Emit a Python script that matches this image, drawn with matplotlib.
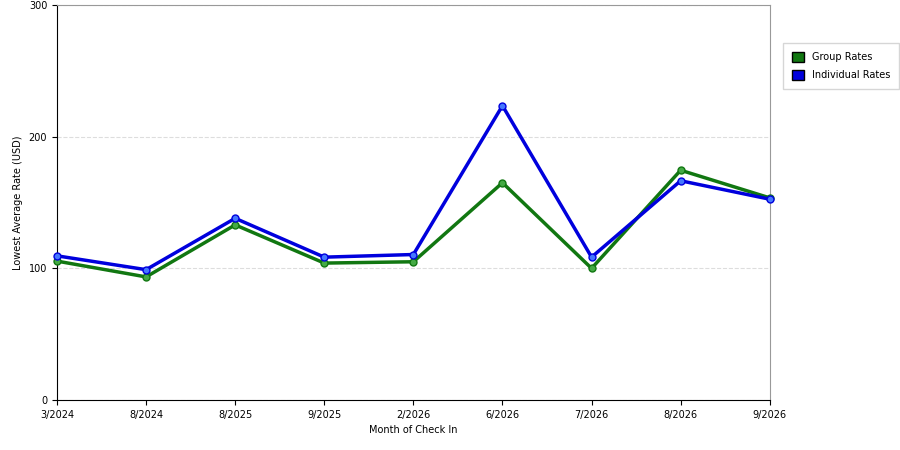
import matplotlib
matplotlib.use("Agg")
import matplotlib.pyplot as plt
from matplotlib.patches import Patch

months = ["3/2024","8/2024","8/2025","9/2025","2/2026","6/2026","7/2026","8/2026","9/2026"]
group_rates = [105.5, 93.5, 133, 104, 105, 165, 100, 174.5, 153.5]
individual_rates = [109.5, 99, 138, 108.5, 110.5, 223.5, 108.5, 166.5, 152.5]

fig = plt.figure(figsize=(9, 4.5), dpi=100)
ax = fig.add_axes([0.0633, 0.111, 0.792, 0.878])
x = list(range(len(months)))
ax.plot(x, group_rates, color="#117711", lw=2.5, marker="o", ms=5, mfc="#44aa44", mec="#117711", zorder=3, clip_on=False)
ax.plot(x, individual_rates, color="#0000dd", lw=2.5, marker="o", ms=5, mfc="#4477ff", mec="#0000dd", zorder=4, clip_on=False)
ax.set_xlim(0, len(months)-1)
ax.set_ylim(0, 300)
ax.set_xticks(x)
ax.set_xticklabels(months, fontsize=7)
ax.set_yticks([0, 100, 200, 300])
ax.tick_params(axis="y", labelsize=7)
ax.yaxis.grid(True, ls="--", color="#dddddd", lw=0.8)
ax.set_axisbelow(True)
ax.spines["right"].set_color("#999999")
ax.spines["top"].set_color("#999999")
ax.set_xlabel("Month of Check In", fontsize=7)
ax.set_ylabel("Lowest Average Rate (USD)", fontsize=7)
handles = [Patch(facecolor="#117711", edgecolor="black", label="Group Rates"),
           Patch(facecolor="#0000dd", edgecolor="black", label="Individual Rates")]
fig.legend(handles=handles, loc="upper left", bbox_to_anchor=(0.865, 0.915), fontsize=7,
           frameon=True, fancybox=False, edgecolor="#cccccc", handlelength=1.2, handleheight=1.2,
           labelspacing=0.8, borderpad=0.9)
fig.savefig("out.png")
